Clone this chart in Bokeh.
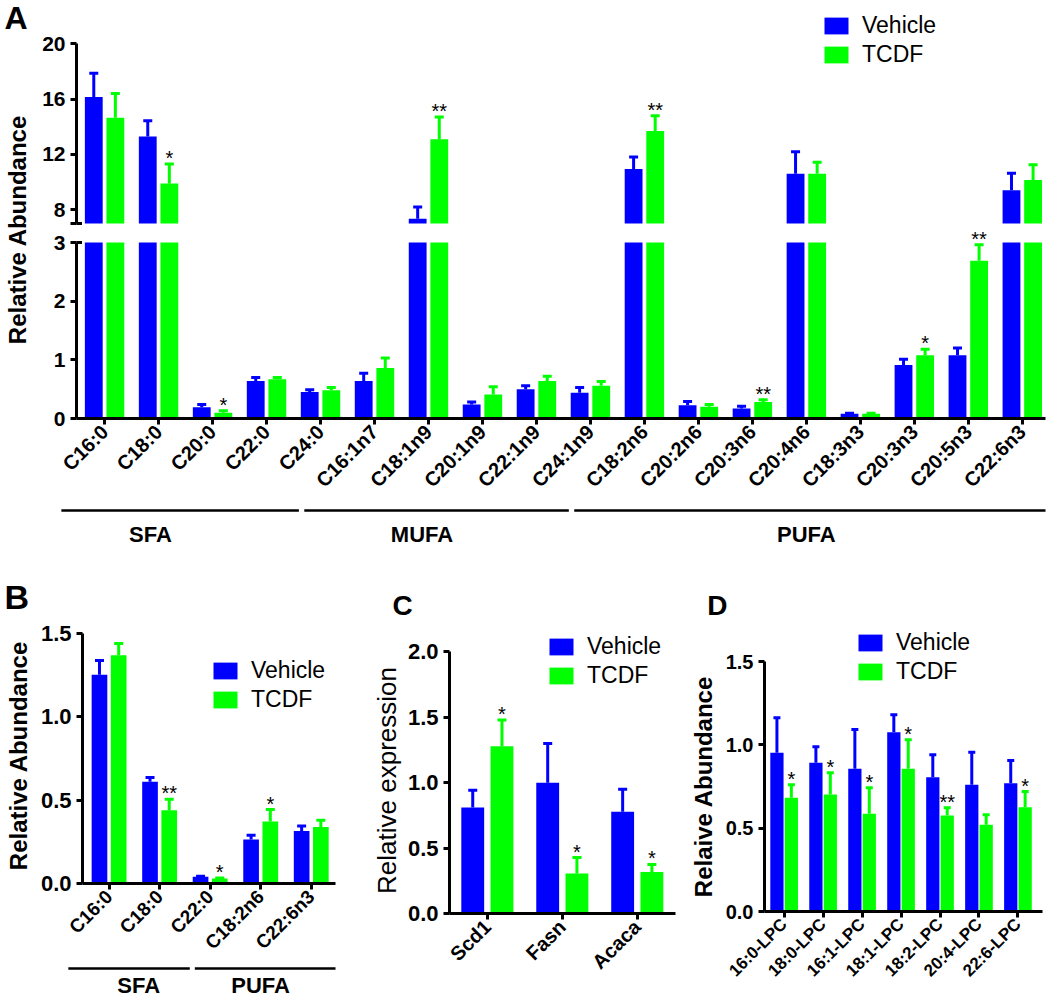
import numpy as np
from bokeh.plotting import figure
from bokeh.layouts import column, row
from bokeh.models import (ColumnDataSource, FixedTicker, Legend, LegendItem,
                          Range1d, PrintfTickFormatter)
from bokeh.embed import file_html
from bokeh.resources import INLINE
from bokeh.core.properties import value

FONT = "Liberation Sans"
BLUE = "#0000ff"
GREEN = "#00ff00"

# ---------------- data ----------------
A_cats = ["C16:0", "C18:0", "C20:0", "C22:0", "C24:0", "C16:1n7", "C18:1n9", "C20:1n9",
          "C22:1n9", "C24:1n9", "C18:2n6", "C20:2n6", "C20:3n6", "C20:4n6", "C18:3n3",
          "C20:3n3", "C20:5n3", "C22:6n3"]
A_veh = [16.15, 13.3, 0.19, 0.64, 0.45, 0.64, 7.35, 0.24, 0.50, 0.44, 10.95, 0.225, 0.17,
         10.6, 0.08, 0.91, 1.08, 9.4]
A_veh_err = [1.72, 1.14, 0.05, 0.06, 0.04, 0.13, 0.85, 0.04, 0.06, 0.09, 0.87, 0.065, 0.04,
             1.6, 0.01, 0.10, 0.12, 1.24]
A_tcdf = [14.65, 9.9, 0.10, 0.67, 0.48, 0.86, 13.1, 0.41, 0.64, 0.56, 13.7, 0.20, 0.28,
          10.6, 0.08, 1.08, 2.69, 10.15]
A_tcdf_err = [1.75, 1.4, 0.03, 0.03, 0.05, 0.17, 1.6, 0.13, 0.08, 0.07, 1.1, 0.04, 0.04,
              0.83, 0.01, 0.10, 0.27, 1.1]
A_sig = ["", "*", "*", "", "", "", "**", "", "", "", "**", "", "**", "", "", "*", "**", ""]
A_groups = [("SFA", 0, 4), ("MUFA", 5, 9), ("PUFA", 10, 17)]
A_top_ticks = [7, 8, 12, 16, 20]
A_bot_ticks = [0, 1, 2, 3]
A_break = (3, 7)

B_cats = ["C16:0", "C18:0", "C22:0", "C18:2n6", "C22:6n3"]
B_veh = [1.25, 0.61, 0.04, 0.263, 0.315]
B_veh_err = [0.085, 0.025, 0.003, 0.026, 0.03]
B_tcdf = [1.367, 0.439, 0.03, 0.371, 0.339]
B_tcdf_err = [0.07, 0.066, 0.003, 0.072, 0.04]
B_sig = ["", "**", "*", "*", ""]
B_groups = [("SFA", 0, 2), ("PUFA", 3, 4)]

C_cats = ["Scd1", "Fasn", "Acaca"]
C_veh = [0.81, 1.0, 0.777]
C_veh_err = [0.133, 0.30, 0.173]
C_tcdf = [1.279, 0.306, 0.318]
C_tcdf_err = [0.20, 0.122, 0.057]
C_sig = ["*", "*", "*"]

D_cats = ["16:0-LPC", "18:0-LPC", "16:1-LPC", "18:1-LPC", "18:2-LPC", "20:4-LPC", "22:6-LPC"]
D_veh = [0.952, 0.892, 0.856, 1.076, 0.806, 0.76, 0.77]
D_veh_err = [0.21, 0.096, 0.236, 0.104, 0.134, 0.196, 0.136]
D_tcdf = [0.682, 0.702, 0.586, 0.856, 0.576, 0.52, 0.626]
D_tcdf_err = [0.078, 0.13, 0.156, 0.174, 0.046, 0.06, 0.094]
D_sig = ["*", "*", "*", "*", "**", "", "*"]

SERIES = ["Vehicle", "TCDF"]


# ---------------- helpers ----------------
def make_fig(width, height, xr, yr, mb, xaxis=True, yaxis=True):
    p = figure(width=width, height=height, x_range=xr, y_range=yr,
               output_backend="svg", toolbar_location=None,
               x_axis_location="below" if xaxis else None,
               y_axis_location="left" if yaxis else None,
               min_border_left=mb[0], min_border_right=mb[1],
               min_border_top=mb[2], min_border_bottom=mb[3])
    p.outline_line_color = None
    p.grid.visible = False
    p.background_fill_color = "white"
    p.border_fill_color = "white"
    return p


def blank(width, height):
    # pixel-like coordinates over the frame: x to the right, y downward
    return make_fig(width, height, Range1d(0, width), Range1d(height, 0), (0, 0, 0, 0),
                    xaxis=False, yaxis=False)


def put_text(p, text, x, y, size, bold=True, angle=0.0, align="left"):
    p.text(x=[x], y=[y], text=[text], angle=angle, text_font=value(FONT),
           text_font_size=f"{size}px", text_font_style="bold" if bold else "normal",
           text_align=align, text_baseline="middle", text_color="black")


def style_axis(ax, size):
    ax.axis_line_width = 3
    ax.axis_line_color = "black"
    ax.major_tick_line_width = 3
    ax.major_tick_line_color = "black"
    ax.major_tick_out = 6
    ax.major_tick_in = 0
    ax.minor_tick_line_color = None
    ax.major_label_text_font = FONT
    ax.major_label_text_font_style = "bold"
    ax.major_label_text_font_size = f"{size}px"
    ax.major_label_text_color = "black"


def cat_axis(p, cats, size):
    ax = p.xaxis[0]
    style_axis(ax, size)
    ax.ticker = FixedTicker(ticks=list(range(len(cats))))
    ax.major_label_overrides = {i: c for i, c in enumerate(cats)}
    ax.major_label_orientation = np.pi / 4
    ax.major_label_standoff = 4


def add_series(p, vals, errs, color, shift, width, sig=None, show=None, bottom=0.0,
               tops=None, cap=9, star_size=20):
    vals = np.asarray(vals, float)
    errs = np.asarray(errs, float)
    xs = np.arange(len(vals)) + shift
    src = ColumnDataSource(dict(x=xs, top=vals if tops is None else tops, val=vals,
                                up=vals + errs))
    r = p.vbar(x="x", top="top", bottom=bottom, width=width, source=src,
               fill_color=color, line_color=None)
    p.segment(x0="x", y0="val", x1="x", y1="up", source=src, line_color=color, line_width=3)
    p.scatter(x="x", y="up", source=src, marker="dash", size=cap, line_color=color,
              line_width=3)
    if sig is not None:
        keep = [i for i, s in enumerate(sig) if s and (show is None or show[i])]
        if keep:
            ssrc = ColumnDataSource(dict(x=xs[keep], up=(vals + errs)[keep],
                                         sig=[sig[i] for i in keep]))
            p.text(x="x", y="up", text="sig", source=ssrc, text_align="center",
                   text_baseline="middle", y_offset=-6, text_font=value(FONT),
                   text_font_size=f"{star_size}px", text_color="black")
    return r


def add_legend(p, rb, rg, loc, fs=23):
    leg = Legend(items=[LegendItem(label=SERIES[0], renderers=[rb]),
                        LegendItem(label=SERIES[1], renderers=[rg])],
                 location=loc, orientation="vertical", glyph_width=30, glyph_height=21,
                 label_height=27, label_standoff=11, spacing=2, padding=0, margin=0,
                 border_line_color=None, background_fill_alpha=0,
                 label_text_font=FONT, label_text_font_size=f"{fs}px",
                 label_text_color="black")
    p.add_layout(leg)


def group_fig(width, height, xr, groups, label_shift, mb_right, line_y, text_y, lw=2.5):
    g = make_fig(width, height, xr, Range1d(height, 0), (0, mb_right, 0, 0),
                 xaxis=False, yaxis=False)
    x0s, x1s, tx, names = [], [], [], []
    for k, (name, a, b) in enumerate(groups):
        start = a - 0.8 if k == 0 else (groups[k - 1][2] + a) / 2 - 0.85 + 0.05
        end = b + 0.5 if k == len(groups) - 1 else (b + groups[k + 1][1]) / 2 - 0.85 - 0.05
        x0s.append(start); x1s.append(end)
        tx.append((start + end) / 2 + label_shift[k]); names.append(name)
    src = ColumnDataSource(dict(x0=x0s, x1=x1s, tx=tx, name=names,
                                ly=[line_y] * len(groups), ty=[text_y] * len(groups)))
    g.segment(x0="x0", y0="ly", x1="x1", y1="ly", source=src, line_color="black", line_width=lw)
    g.text(x="tx", y="ty", text="name", source=src, text_align="center",
           text_baseline="middle", text_font=value(FONT), text_font_style="bold",
           text_font_size="22px", text_color="black")
    return g


# ---------------- Panel A ----------------
nA = len(A_cats)
A_xr = Range1d(-0.52, 17.43)
lo, hi = A_break
A_veh_a, A_tcdf_a = np.asarray(A_veh), np.asarray(A_tcdf)

topA = make_fig(1010, 225, A_xr, Range1d(6.855, 22.99), (38, 3, 2, 0), xaxis=False)
style_axis(topA.yaxis[0], 21)
topA.yaxis[0].ticker = FixedTicker(ticks=A_top_ticks)
topA.yaxis[0].major_label_overrides = {hi: ""}
topA.yaxis[0].bounds = (hi, A_top_ticks[-1])
rb = add_series(topA, A_veh, A_veh_err, BLUE, -0.2, 0.33, bottom=hi,
                tops=np.maximum(A_veh_a, hi))
rg = add_series(topA, A_tcdf, A_tcdf_err, GREEN, 0.2, 0.33, sig=A_sig,
                show=A_tcdf_a > hi, bottom=hi, tops=np.maximum(A_tcdf_a, hi))
topA.scatter(x=[A_xr.start], y=[hi], marker="dash", size=11, line_color="black", line_width=3)
add_legend(topA, rb, rg, (745, 157))

botA = make_fig(1010, 278, A_xr, Range1d(0, 3.29), (38, 3, 0, 85))
style_axis(botA.yaxis[0], 21)
botA.yaxis[0].ticker = FixedTicker(ticks=A_bot_ticks)
botA.yaxis[0].bounds = (0, lo)
cat_axis(botA, A_cats, 20)
add_series(botA, A_veh, A_veh_err, BLUE, -0.2, 0.33, tops=np.minimum(A_veh_a, lo))
add_series(botA, A_tcdf, A_tcdf_err, GREEN, 0.2, 0.33, sig=A_sig, show=A_tcdf_a <= lo,
           tops=np.minimum(A_tcdf_a, lo))
botA.scatter(x=[A_xr.start], y=[lo], marker="dash", size=11, line_color="black", line_width=3)

labA = blank(38, 503)
put_text(labA, "A", 4, 17, 32)
put_text(labA, "Relative Abundance", 17.4, 229, 24, angle=np.pi / 2, align="center")

grpA = group_fig(1048, 47, Range1d(A_xr.start - 76 / 54.0, A_xr.end), A_groups,
                 [-0.55, -0.27, -0.1], 3, 7, 31)

panelA = column(row(labA, column(topA, botA)), grpA)

# ---------------- Panel B ----------------
B_xr = Range1d(-0.526, 4.48)
B_h, B_bb = 345, 82
figB = make_fig(311, B_h, B_xr, Range1d(0, 1.575), (48, 10, 0, B_bb))
style_axis(figB.yaxis[0], 22)
figB.yaxis[0].ticker = FixedTicker(ticks=[0, 0.5, 1.0, 1.5])
figB.yaxis[0].formatter = PrintfTickFormatter(format="%.1f")
figB.yaxis[0].bounds = (0, 1.5)
cat_axis(figB, B_cats, 19)
rbB = add_series(figB, B_veh, B_veh_err, BLUE, -0.19, 0.31)
rgB = add_series(figB, B_tcdf, B_tcdf_err, GREEN, 0.19, 0.31, sig=B_sig)
add_legend(figB, rbB, rgB, (128, 170.5))

letB = blank(345, 70)
put_text(letB, "B", 4, 46, 34)
# the strip's frame is aligned with figB's frame (same bottom border)
labB = make_fig(34, B_h, Range1d(0, 34), Range1d(B_h - B_bb, 0), (0, 0, 0, B_bb),
                xaxis=False, yaxis=False)
put_text(labB, "Relative Abundance", 18, 135, 24, angle=np.pi / 2, align="center")
grpB = group_fig(345, 35, Range1d(B_xr.start - 81.7 / 50.6, B_xr.end), B_groups,
                 [0.19, -0.1], 10, 3, 20)
panelB = column(letB, row(labB, figB), grpB)

# ---------------- Panel C ----------------
C_xr = Range1d(-0.505, 2.51)
C_h, C_bb = 380, 87
figC = make_fig(276, C_h, C_xr, Range1d(0, 2.24), (44, 5, 0, C_bb))
style_axis(figC.yaxis[0], 22)
figC.yaxis[0].ticker = FixedTicker(ticks=[0, 0.5, 1.0, 1.5, 2.0])
figC.yaxis[0].formatter = PrintfTickFormatter(format="%.1f")
figC.yaxis[0].bounds = (0, 2.0)
cat_axis(figC, C_cats, 20)
rbC = add_series(figC, C_veh, C_veh_err, BLUE, -0.195, 0.305)
rgC = add_series(figC, C_tcdf, C_tcdf_err, GREEN, 0.195, 0.305, sig=C_sig)
add_legend(figC, rbC, rgC, (97, 224.5))

letC = blank(335, 70)
put_text(letC, "C", 47, 55, 28)
labC = make_fig(59, C_h, Range1d(0, 59), Range1d(C_h - C_bb, 0), (0, 0, 0, C_bb),
                xaxis=False, yaxis=False)
put_text(labC, "Relative expression", 41.7, 160, 26, bold=False, angle=np.pi / 2,
         align="center")
panelC = column(letC, row(labC, figC))

# ---------------- Panel D ----------------
D_xr = Range1d(-0.504, 6.63)
D_h, D_bb = 380, 89
figD = make_fig(326, D_h, D_xr, Range1d(0, 1.746), (41, 6, 0, D_bb))
style_axis(figD.yaxis[0], 20)
figD.yaxis[0].ticker = FixedTicker(ticks=[0, 0.5, 1.0, 1.5])
figD.yaxis[0].formatter = PrintfTickFormatter(format="%.1f")
figD.yaxis[0].bounds = (0, 1.5)
cat_axis(figD, D_cats, 17)
rbD = add_series(figD, D_veh, D_veh_err, BLUE, -0.185, 0.34, cap=7)
rgD = add_series(figD, D_tcdf, D_tcdf_err, GREEN, 0.185, 0.34, sig=D_sig, cap=7)
add_legend(figD, rbD, rgD, (91, 225.8))

letD = blank(368, 70)
put_text(letD, "D", 26.7, 55, 28)
labD = make_fig(42, D_h, Range1d(0, 42), Range1d(D_h - D_bb, 0), (0, 0, 0, D_bb),
                xaxis=False, yaxis=False)
put_text(labD, "Relaive Abundance", 23, 166, 24, angle=np.pi / 2, align="center")
panelD = column(letD, row(labD, figD))

layout = column(panelA, row(panelB, panelC, panelD))

open("out.html", "w").write(file_html(layout, INLINE))
